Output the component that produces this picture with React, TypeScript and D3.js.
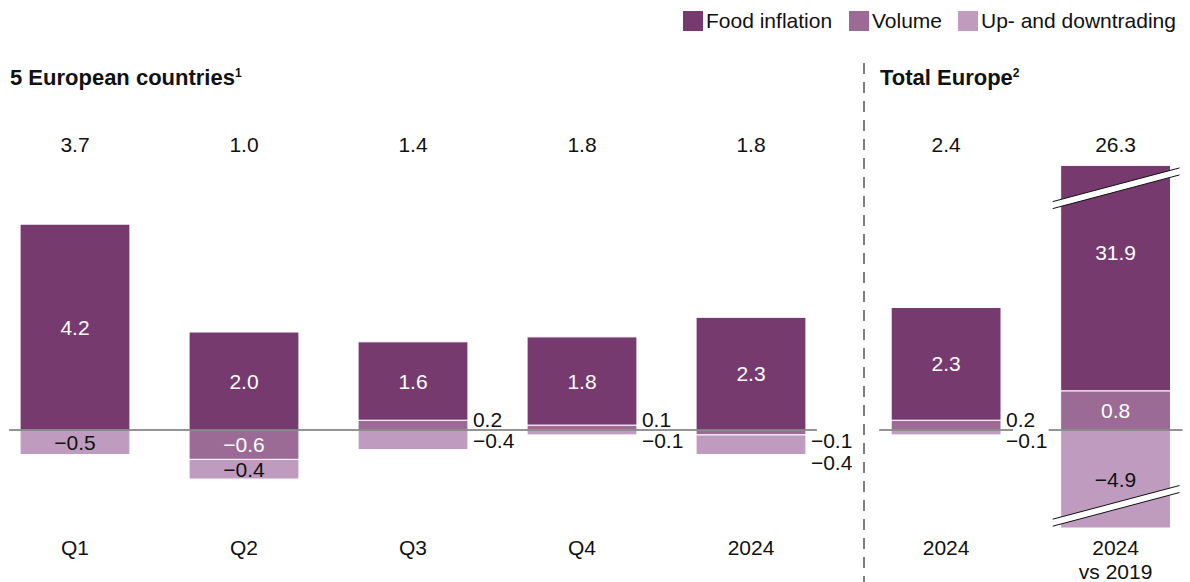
import React, { useEffect, useRef } from "react";
import * as d3 from "d3";

// values
const leftCategories = ["Q1", "Q2", "Q3", "Q4", "2024"];
const rightCategories = ["2024", "2024 vs 2019"];
const foodInflation = [4.2, 2.0, 1.6, 1.8, 2.3, 2.3, 31.9];
const volume = [0, -0.6, 0.2, 0.1, -0.1, 0.2, 0.8];
const upDowntrading = [-0.5, -0.4, -0.4, -0.1, -0.4, -0.1, -4.9];
const totals = [3.7, 1.0, 1.4, 1.8, 1.8, 2.4, 26.3];
const seriesNames = ["Food inflation", "Volume", "Up- and downtrading"];
const groupTitles = ["5 European countries", "Total Europe"];
const footnotes = ["1", "2"];

const colors = { food: "#773a6e", volume: "#9b6b96", updown: "#bf9cbf" };
const font = "'Liberation Sans', Arial, sans-serif";

const Chart = () => {
  const ref = useRef<SVGSVGElement>(null);

  function draw() {
    const svg = d3.select(ref.current);
    svg.selectAll("*").remove();
    const width = 1190;
    const height = 582;
    svg.attr("width", width).attr("height", height).attr("viewBox", [0, 0, width, height]);

    const rows = [...leftCategories, ...rightCategories].map((c, i) => ({
      id: `${i}`,
      label: c,
      group: i < leftCategories.length ? 0 : 1,
      food: foodInflation[i],
      volume: volume[i],
      updown: upDowntrading[i],
      total: totals[i],
    }));

    const xLeft = d3
      .scaleBand()
      .domain(rows.filter((r) => r.group === 0).map((r) => r.id))
      .range([-9.5, 835.5])
      .paddingInner(0.35)
      .paddingOuter(0.175);
    const xRight = d3
      .scaleBand()
      .domain(rows.filter((r) => r.group === 1).map((r) => r.id))
      .range([861.5, 1200.5])
      .paddingInner(0.35)
      .paddingOuter(0.175);
    const bw = xLeft.bandwidth();
    const xOf = (r) => (r.group === 0 ? xLeft(r.id) : xRight(r.id));

    // axis break: values beyond the domain get clamped
    const y = d3.scaleLinear().domain([-2, 5.4]).range([528, 165.4]).clamp(true);
    const [yMin, yMax] = y.domain();

    const keys = ["volume", "food", "updown"];
    const stacked = d3.stack().keys(keys).offset(d3.stackOffsetDiverging)(rows);
    const fmt = d3.format(".1f");

    const gBars = svg.append("g");
    stacked.forEach((s) => {
      gBars
        .append("g")
        .attr("fill", colors[s.key])
        .selectAll("rect")
        .data(s.filter((d) => d[1] !== d[0]))
        .join("rect")
        .attr("x", (d) => xOf(d.data))
        .attr("width", bw)
        .attr("y", (d) => Math.min(y(d[0]), y(d[1])))
        .attr("height", (d) => Math.abs(y(d[0]) - y(d[1])))
        .attr("stroke", "#fff")
        .attr("stroke-width", 1);
    });

    // break marks
    const slope = -34 / 128;
    const drawBreak = (r, cy) => {
      const x0 = xOf(r);
      const cx = x0 + bw / 2;
      const xl = x0 - 8;
      const xr = x0 + bw + 9;
      const yy = (x, off) => cy + slope * (x - cx) + off;
      svg
        .append("polygon")
        .attr(
          "points",
          [
            [xl, yy(xl, -3.5)],
            [xr, yy(xr, -3.5)],
            [xr, yy(xr, 3.5)],
            [xl, yy(xl, 3.5)],
          ].join(" ")
        )
        .attr("fill", "#fff");
      [-3.5, 3.5].forEach((off) =>
        svg
          .append("line")
          .attr("x1", xl)
          .attr("x2", xr)
          .attr("y1", yy(xl, off))
          .attr("y2", yy(xr, off))
          .attr("stroke", "#111")
          .attr("stroke-width", 1)
      );
    };
    stacked.forEach((s) =>
      s.forEach((d) => {
        if (d[1] > yMax) drawBreak(d.data, y(d[1]) + 23);
        if (d[0] < yMin) drawBreak(d.data, y(d[0]) - 22);
      })
    );

    // zero lines
    const y0 = y(0);
    const gZero = svg.append("g").attr("stroke", "#707070").attr("stroke-width", 1.5);
    const leftRows = rows.filter((r) => r.group === 0);
    gZero
      .append("line")
      .attr("x1", xOf(leftRows[0]) - 11)
      .attr("x2", xOf(leftRows[leftRows.length - 1]) + bw + 11)
      .attr("y1", y0)
      .attr("y2", y0);
    rows
      .filter((r) => r.group === 1)
      .forEach((r) =>
        gZero
          .append("line")
          .attr("x1", xOf(r) - 12)
          .attr("x2", xOf(r) + bw + 12)
          .attr("y1", y0)
          .attr("y2", y0)
      );

    // segment labels
    const gLab = svg.append("g").attr("font-family", font).attr("font-size", 21);
    const small = (r) => r.volume !== 0 && Math.abs(r.volume) < 0.3;
    stacked.forEach((s) => {
      s.forEach((d) => {
        const r = d.data;
        const v = r[s.key];
        if (v === 0) return;
        if (s.key !== "food" && small(r)) return;
        // a broken segment puts its label higher, clear of the break
        const shift = d[1] > yMax ? -26 : 0;
        gLab
          .append("text")
          .attr("x", xOf(r) + bw / 2)
          .attr("y", (y(d[0]) + y(d[1])) / 2 + shift)
          .attr("dy", "0.36em")
          .attr("text-anchor", "middle")
          .attr("fill", s.key === "updown" ? "#111" : "#fff")
          .text(fmt(v));
      });
    });
    rows.filter(small).forEach((r) => {
      let neg = 0;
      [r.volume, r.updown].forEach((v) => {
        const yy = v > 0 ? y0 - 3 : y0 + 18 + 22 * neg++;
        gLab
          .append("text")
          .attr("x", xOf(r) + bw + 5)
          .attr("y", yy)
          .attr("fill", "#111")
          .text(fmt(v));
      });
    });

    // totals and category labels
    const gTop = svg.append("g").attr("font-family", font).attr("font-size", 21).attr("fill", "#111").attr("text-anchor", "middle");
    rows.forEach((r) => {
      const cx = xOf(r) + bw / 2;
      gTop.append("text").attr("x", cx).attr("y", 152).text(fmt(r.total));
      const parts = r.label.split(" vs ");
      gTop.append("text").attr("x", cx).attr("y", 555).text(parts[0]);
      if (parts[1]) gTop.append("text").attr("x", cx).attr("y", 579).text(`vs ${parts[1]}`);
    });

    // separator
    svg
      .append("line")
      .attr("x1", 864)
      .attr("x2", 864)
      .attr("y1", 63)
      .attr("y2", height)
      .attr("stroke", "#808080")
      .attr("stroke-width", 2)
      .attr("stroke-dasharray", "11 8");

    // group titles
    [10, 880].forEach((x, i) => {
      const t = svg
        .append("text")
        .attr("x", x)
        .attr("y", 85)
        .attr("font-family", font)
        .attr("font-size", 22)
        .attr("font-weight", "bold")
        .attr("fill", "#111")
        .text(groupTitles[i]);
      t.append("tspan").attr("font-size", 12).attr("dy", -8).text(footnotes[i]);
    });

    // legend
    const legendX = [683, 849, 958];
    const legendColors = [colors.food, colors.volume, colors.updown];
    const gLeg = svg.append("g").attr("font-family", font).attr("font-size", 21).attr("fill", "#111");
    seriesNames.forEach((name, i) => {
      gLeg.append("rect").attr("x", legendX[i]).attr("y", 11).attr("width", 20).attr("height", 20).attr("fill", legendColors[i]);
      gLeg.append("text").attr("x", legendX[i] + 23).attr("y", 28).text(name);
    });
  }

  useEffect(() => {
    draw();
  }, []);

  return <svg ref={ref} style={{ position: "absolute", left: 0, top: 0 }} />;
};

export default function App() {
  return <Chart />;
}
